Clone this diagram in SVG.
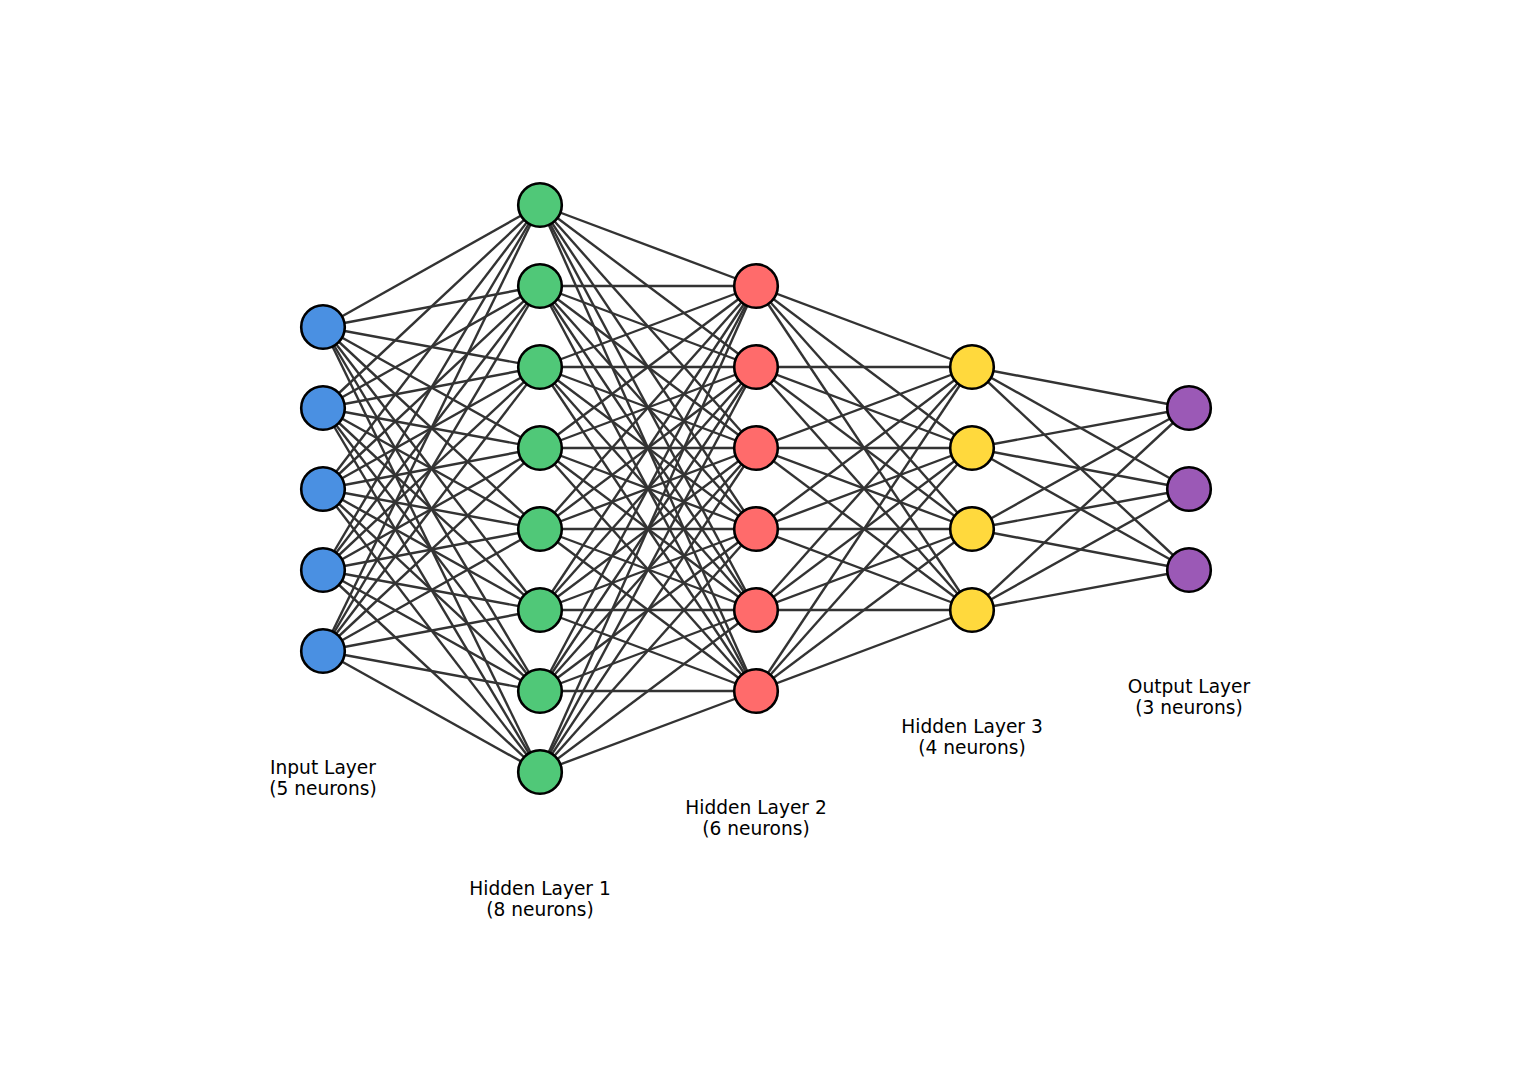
<svg xmlns="http://www.w3.org/2000/svg" width="1520" height="1080" viewBox="0 0 1520 1080">
<style>
.e{stroke:#333333;stroke-width:2.4;stroke-linecap:butt}
.n{stroke:#000;stroke-width:2.6}
.in{fill:#4A90E2}.h1{fill:#50C878}.h2{fill:#FF6B6B}.h3{fill:#FFD93D}.out{fill:#9B59B6}
.lbl{font-family:"DejaVu Sans","Liberation Sans",sans-serif;font-size:18.6px;fill:#000;text-anchor:middle}
</style>
<rect width="1520" height="1080" fill="#fff"/>
<g id="connectors">
<line class="e" x1="323" y1="327" x2="540" y2="205"/><line class="e" x1="323" y1="327" x2="540" y2="286"/><line class="e" x1="323" y1="327" x2="540" y2="367"/><line class="e" x1="323" y1="327" x2="540" y2="448"/><line class="e" x1="323" y1="327" x2="540" y2="529"/><line class="e" x1="323" y1="327" x2="540" y2="610"/><line class="e" x1="323" y1="327" x2="540" y2="691"/><line class="e" x1="323" y1="327" x2="540" y2="772"/>
<line class="e" x1="323" y1="408" x2="540" y2="205"/><line class="e" x1="323" y1="408" x2="540" y2="286"/><line class="e" x1="323" y1="408" x2="540" y2="367"/><line class="e" x1="323" y1="408" x2="540" y2="448"/><line class="e" x1="323" y1="408" x2="540" y2="529"/><line class="e" x1="323" y1="408" x2="540" y2="610"/><line class="e" x1="323" y1="408" x2="540" y2="691"/><line class="e" x1="323" y1="408" x2="540" y2="772"/>
<line class="e" x1="323" y1="489" x2="540" y2="205"/><line class="e" x1="323" y1="489" x2="540" y2="286"/><line class="e" x1="323" y1="489" x2="540" y2="367"/><line class="e" x1="323" y1="489" x2="540" y2="448"/><line class="e" x1="323" y1="489" x2="540" y2="529"/><line class="e" x1="323" y1="489" x2="540" y2="610"/><line class="e" x1="323" y1="489" x2="540" y2="691"/><line class="e" x1="323" y1="489" x2="540" y2="772"/>
<line class="e" x1="323" y1="570" x2="540" y2="205"/><line class="e" x1="323" y1="570" x2="540" y2="286"/><line class="e" x1="323" y1="570" x2="540" y2="367"/><line class="e" x1="323" y1="570" x2="540" y2="448"/><line class="e" x1="323" y1="570" x2="540" y2="529"/><line class="e" x1="323" y1="570" x2="540" y2="610"/><line class="e" x1="323" y1="570" x2="540" y2="691"/><line class="e" x1="323" y1="570" x2="540" y2="772"/>
<line class="e" x1="323" y1="651" x2="540" y2="205"/><line class="e" x1="323" y1="651" x2="540" y2="286"/><line class="e" x1="323" y1="651" x2="540" y2="367"/><line class="e" x1="323" y1="651" x2="540" y2="448"/><line class="e" x1="323" y1="651" x2="540" y2="529"/><line class="e" x1="323" y1="651" x2="540" y2="610"/><line class="e" x1="323" y1="651" x2="540" y2="691"/><line class="e" x1="323" y1="651" x2="540" y2="772"/>
<line class="e" x1="540" y1="205" x2="756" y2="286"/><line class="e" x1="540" y1="205" x2="756" y2="367"/><line class="e" x1="540" y1="205" x2="756" y2="448"/><line class="e" x1="540" y1="205" x2="756" y2="529"/><line class="e" x1="540" y1="205" x2="756" y2="610"/><line class="e" x1="540" y1="205" x2="756" y2="691"/>
<line class="e" x1="540" y1="286" x2="756" y2="286"/><line class="e" x1="540" y1="286" x2="756" y2="367"/><line class="e" x1="540" y1="286" x2="756" y2="448"/><line class="e" x1="540" y1="286" x2="756" y2="529"/><line class="e" x1="540" y1="286" x2="756" y2="610"/><line class="e" x1="540" y1="286" x2="756" y2="691"/>
<line class="e" x1="540" y1="367" x2="756" y2="286"/><line class="e" x1="540" y1="367" x2="756" y2="367"/><line class="e" x1="540" y1="367" x2="756" y2="448"/><line class="e" x1="540" y1="367" x2="756" y2="529"/><line class="e" x1="540" y1="367" x2="756" y2="610"/><line class="e" x1="540" y1="367" x2="756" y2="691"/>
<line class="e" x1="540" y1="448" x2="756" y2="286"/><line class="e" x1="540" y1="448" x2="756" y2="367"/><line class="e" x1="540" y1="448" x2="756" y2="448"/><line class="e" x1="540" y1="448" x2="756" y2="529"/><line class="e" x1="540" y1="448" x2="756" y2="610"/><line class="e" x1="540" y1="448" x2="756" y2="691"/>
<line class="e" x1="540" y1="529" x2="756" y2="286"/><line class="e" x1="540" y1="529" x2="756" y2="367"/><line class="e" x1="540" y1="529" x2="756" y2="448"/><line class="e" x1="540" y1="529" x2="756" y2="529"/><line class="e" x1="540" y1="529" x2="756" y2="610"/><line class="e" x1="540" y1="529" x2="756" y2="691"/>
<line class="e" x1="540" y1="610" x2="756" y2="286"/><line class="e" x1="540" y1="610" x2="756" y2="367"/><line class="e" x1="540" y1="610" x2="756" y2="448"/><line class="e" x1="540" y1="610" x2="756" y2="529"/><line class="e" x1="540" y1="610" x2="756" y2="610"/><line class="e" x1="540" y1="610" x2="756" y2="691"/>
<line class="e" x1="540" y1="691" x2="756" y2="286"/><line class="e" x1="540" y1="691" x2="756" y2="367"/><line class="e" x1="540" y1="691" x2="756" y2="448"/><line class="e" x1="540" y1="691" x2="756" y2="529"/><line class="e" x1="540" y1="691" x2="756" y2="610"/><line class="e" x1="540" y1="691" x2="756" y2="691"/>
<line class="e" x1="540" y1="772" x2="756" y2="286"/><line class="e" x1="540" y1="772" x2="756" y2="367"/><line class="e" x1="540" y1="772" x2="756" y2="448"/><line class="e" x1="540" y1="772" x2="756" y2="529"/><line class="e" x1="540" y1="772" x2="756" y2="610"/><line class="e" x1="540" y1="772" x2="756" y2="691"/>
<line class="e" x1="756" y1="286" x2="972" y2="367"/><line class="e" x1="756" y1="286" x2="972" y2="448"/><line class="e" x1="756" y1="286" x2="972" y2="529"/><line class="e" x1="756" y1="286" x2="972" y2="610"/>
<line class="e" x1="756" y1="367" x2="972" y2="367"/><line class="e" x1="756" y1="367" x2="972" y2="448"/><line class="e" x1="756" y1="367" x2="972" y2="529"/><line class="e" x1="756" y1="367" x2="972" y2="610"/>
<line class="e" x1="756" y1="448" x2="972" y2="367"/><line class="e" x1="756" y1="448" x2="972" y2="448"/><line class="e" x1="756" y1="448" x2="972" y2="529"/><line class="e" x1="756" y1="448" x2="972" y2="610"/>
<line class="e" x1="756" y1="529" x2="972" y2="367"/><line class="e" x1="756" y1="529" x2="972" y2="448"/><line class="e" x1="756" y1="529" x2="972" y2="529"/><line class="e" x1="756" y1="529" x2="972" y2="610"/>
<line class="e" x1="756" y1="610" x2="972" y2="367"/><line class="e" x1="756" y1="610" x2="972" y2="448"/><line class="e" x1="756" y1="610" x2="972" y2="529"/><line class="e" x1="756" y1="610" x2="972" y2="610"/>
<line class="e" x1="756" y1="691" x2="972" y2="367"/><line class="e" x1="756" y1="691" x2="972" y2="448"/><line class="e" x1="756" y1="691" x2="972" y2="529"/><line class="e" x1="756" y1="691" x2="972" y2="610"/>
<line class="e" x1="972" y1="367" x2="1189" y2="408"/><line class="e" x1="972" y1="367" x2="1189" y2="489"/><line class="e" x1="972" y1="367" x2="1189" y2="570"/>
<line class="e" x1="972" y1="448" x2="1189" y2="408"/><line class="e" x1="972" y1="448" x2="1189" y2="489"/><line class="e" x1="972" y1="448" x2="1189" y2="570"/>
<line class="e" x1="972" y1="529" x2="1189" y2="408"/><line class="e" x1="972" y1="529" x2="1189" y2="489"/><line class="e" x1="972" y1="529" x2="1189" y2="570"/>
<line class="e" x1="972" y1="610" x2="1189" y2="408"/><line class="e" x1="972" y1="610" x2="1189" y2="489"/><line class="e" x1="972" y1="610" x2="1189" y2="570"/>
</g>
<g id="input-layer">
<circle class="n in" cx="323" cy="327" r="21.8"/><circle class="n in" cx="323" cy="408" r="21.8"/><circle class="n in" cx="323" cy="489" r="21.8"/><circle class="n in" cx="323" cy="570" r="21.8"/><circle class="n in" cx="323" cy="651" r="21.8"/>
<text class="lbl" x="323" y="774">Input Layer</text><text class="lbl" x="323" y="795">(5 neurons)</text>
</g>
<g id="hidden-layer-1">
<circle class="n h1" cx="540" cy="205" r="21.8"/><circle class="n h1" cx="540" cy="286" r="21.8"/><circle class="n h1" cx="540" cy="367" r="21.8"/><circle class="n h1" cx="540" cy="448" r="21.8"/><circle class="n h1" cx="540" cy="529" r="21.8"/><circle class="n h1" cx="540" cy="610" r="21.8"/><circle class="n h1" cx="540" cy="691" r="21.8"/><circle class="n h1" cx="540" cy="772" r="21.8"/>
<text class="lbl" x="540" y="895">Hidden Layer 1</text><text class="lbl" x="540" y="916">(8 neurons)</text>
</g>
<g id="hidden-layer-2">
<circle class="n h2" cx="756" cy="286" r="21.8"/><circle class="n h2" cx="756" cy="367" r="21.8"/><circle class="n h2" cx="756" cy="448" r="21.8"/><circle class="n h2" cx="756" cy="529" r="21.8"/><circle class="n h2" cx="756" cy="610" r="21.8"/><circle class="n h2" cx="756" cy="691" r="21.8"/>
<text class="lbl" x="756" y="814">Hidden Layer 2</text><text class="lbl" x="756" y="835">(6 neurons)</text>
</g>
<g id="hidden-layer-3">
<circle class="n h3" cx="972" cy="367" r="21.8"/><circle class="n h3" cx="972" cy="448" r="21.8"/><circle class="n h3" cx="972" cy="529" r="21.8"/><circle class="n h3" cx="972" cy="610" r="21.8"/>
<text class="lbl" x="972" y="733">Hidden Layer 3</text><text class="lbl" x="972" y="754">(4 neurons)</text>
</g>
<g id="output-layer">
<circle class="n out" cx="1189" cy="408" r="21.8"/><circle class="n out" cx="1189" cy="489" r="21.8"/><circle class="n out" cx="1189" cy="570" r="21.8"/>
<text class="lbl" x="1189" y="693">Output Layer</text><text class="lbl" x="1189" y="714">(3 neurons)</text>
</g>
</svg>
